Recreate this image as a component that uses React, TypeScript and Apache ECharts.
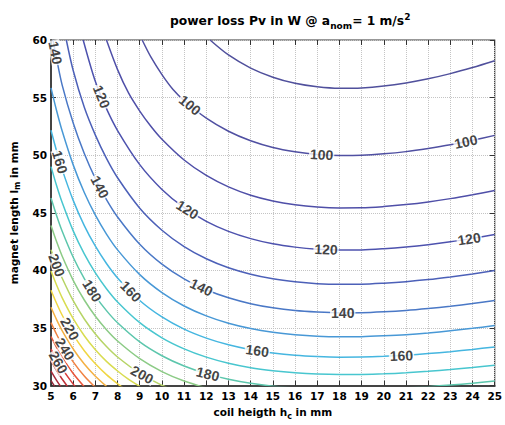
import React, { useEffect, useRef } from "react";
import * as echarts from "echarts";

// contour levels (W)
const levels = [90, 100, 110, 120, 130, 140, 150, 160, 170, 180, 190, 200, 210, 220, 230, 240, 250, 260, 270, 280, 290];

// contour lines: [coil height h (mm), magnet length l (mm)]
const c90 = [[12.17, 60], [13, 58.7], [14, 57.56], [15, 56.77], [16, 56.24], [17, 55.94], [18, 55.81], [19, 55.84], [20, 56.0], [21, 56.27], [22, 56.63], [23, 57.08], [24, 57.61], [25, 58.2]];
const c100 = [[9.11, 60], [9.5, 58.53], [10, 57.0], [10.5, 55.71], [11, 54.75], [12, 53.21], [13, 52.08], [14, 51.25], [15, 50.67], [16, 50.3], [17, 50.07], [18, 49.98], [19, 50.0], [20, 50.12], [21, 50.31], [22, 50.58], [23, 50.9], [24, 51.29], [25, 51.72]];
const c110 = [[7.5, 60], [8, 57.43], [8.5, 55.38], [9, 53.83], [9.5, 52.51], [10, 51.38], [11, 49.58], [12, 48.24], [13, 47.25], [14, 46.53], [15, 46.03], [16, 45.7], [17, 45.5], [18, 45.42], [19, 45.43], [20, 45.54], [21, 45.71], [22, 45.94], [23, 46.23], [24, 46.57], [25, 46.94]];
const c120 = [[6.45, 60], [7, 56.39], [7.5, 54.04], [8, 52.14], [9, 49.18], [10, 47.03], [11, 45.44], [12, 44.26], [13, 43.39], [14, 42.76], [15, 42.31], [16, 42.02], [17, 41.84], [18, 41.77], [19, 41.78], [20, 41.88], [21, 42.03], [22, 42.23], [23, 42.48], [24, 42.78], [25, 43.11]];
const c130 = [[5.69, 60], [6, 57.35], [6.5, 54.16], [7, 51.74], [7.5, 49.72], [8, 48.04], [9, 45.4], [10, 43.49], [11, 42.07], [12, 41.01], [13, 40.23], [14, 39.67], [15, 39.27], [16, 39.01], [17, 38.85], [18, 38.79], [19, 38.8], [20, 38.89], [21, 39.02], [22, 39.2], [23, 39.43], [24, 39.69], [25, 39.99]];
const c140 = [[5.09, 60], [5.25, 58.39], [5.5, 56.11], [6, 52.79], [6.5, 50.14], [7, 47.96], [7.5, 46.15], [8, 44.64], [9, 42.27], [10, 40.54], [11, 39.26], [12, 38.32], [13, 37.62], [14, 37.11], [15, 36.75], [16, 36.51], [17, 36.38], [18, 36.31], [19, 36.32], [20, 36.4], [21, 36.52], [22, 36.69], [23, 36.89], [24, 37.13], [25, 37.39]];
const c150 = [[5, 55.85], [5.25, 53.88], [5.5, 52.12], [6, 49.16], [6.5, 46.76], [7, 44.79], [7.5, 43.15], [8, 41.78], [9, 39.63], [10, 38.07], [11, 36.91], [12, 36.05], [13, 35.41], [14, 34.95], [15, 34.63], [16, 34.42], [17, 34.29], [18, 34.24], [19, 34.25], [20, 34.32], [21, 34.42], [22, 34.57], [23, 34.76], [24, 34.97], [25, 35.21]];
const c160 = [[5, 52.17], [5.25, 50.38], [5.5, 48.77], [6, 46.08], [6.5, 43.89], [7, 42.1], [7.5, 40.6], [8, 39.35], [9, 37.39], [10, 35.96], [11, 34.9], [12, 34.12], [13, 33.54], [14, 33.12], [15, 32.83], [16, 32.63], [17, 32.52], [18, 32.47], [19, 32.48], [20, 32.54], [21, 32.64], [22, 32.78], [23, 32.94], [24, 33.14], [25, 33.36]];
const c170 = [[5, 49.01], [5.25, 47.37], [5.5, 45.91], [6, 43.43], [6.5, 41.43], [7, 39.78], [7.5, 38.41], [8, 37.26], [9, 35.46], [10, 34.15], [11, 33.19], [12, 32.47], [13, 31.94], [14, 31.55], [15, 31.29], [16, 31.11], [17, 31.0], [18, 30.96], [19, 30.97], [20, 31.02], [21, 31.11], [22, 31.24], [23, 31.39], [24, 31.57], [25, 31.77]];
const c180 = [[5, 46.28], [5.25, 44.77], [5.5, 43.42], [6, 41.14], [6.5, 39.29], [7, 37.77], [7.5, 36.51], [8, 35.45], [9, 33.79], [10, 32.59], [11, 31.7], [12, 31.04], [13, 30.55], [14, 30.2], [15, 29.95], [16, 29.79], [17, 29.69], [18, 29.65], [19, 29.66], [20, 29.71], [21, 29.8], [22, 29.91], [23, 30.05], [24, 30.21], [25, 30.4]];
const c190 = [[5, 43.9], [5.25, 42.5], [5.5, 41.25], [6, 39.14], [6.5, 37.43], [7, 36.02], [7.5, 34.85], [8, 33.87], [9, 32.34], [10, 31.22], [11, 30.4], [12, 29.8]];
const c200 = [[5, 41.8], [5.25, 40.5], [5.5, 39.34], [6, 37.37], [6.5, 35.78], [7, 34.48], [7.5, 33.39], [8, 32.48], [9, 31.06], [10, 30.03], [10.5, 29.62]];
const c210 = [[5, 39.94], [5.25, 38.73], [5.5, 37.64], [6, 35.81], [6.5, 34.33], [7, 33.11], [7.5, 32.1], [8, 31.27], [8.5, 30.54], [9, 29.93]];
const c220 = [[5, 38.28], [5.25, 37.15], [5.5, 36.13], [6, 34.42], [6.5, 33.03], [7, 31.89], [7.5, 30.95], [8, 30.16], [8.25, 29.81]];
const c230 = [[5, 36.8], [5.25, 35.73], [5.5, 34.78], [6, 33.18], [6.5, 31.87], [7, 30.81], [7.5, 29.93]];
const c240 = [[5, 35.47], [5.25, 34.46], [5.5, 33.56], [6, 32.06], [6.5, 30.83], [7, 29.84]];
const c250 = [[5, 34.26], [5.25, 33.31], [5.5, 32.47], [6, 31.05], [6.5, 29.9]];
const c260 = [[5, 33.16], [5.25, 32.27], [5.5, 31.47], [6, 30.13], [6.25, 29.57]];
const c270 = [[5, 32.17], [5.25, 31.32], [5.5, 30.57], [5.75, 29.91]];
const c280 = [[5, 31.26], [5.25, 30.46], [5.5, 29.75]];
const c290 = [[5, 30.43], [5.25, 29.67]];

const contourLines = [c90, c100, c110, c120, c130, c140, c150, c160, c170, c180, c190, c200, c210, c220, c230, c240, c250, c260, c270, c280, c290];

// inline contour labels: [level, h, l]
const contourLabels = [
  [140, 5.2, 58.9], [120, 7.28, 55.07], [100, 11.26, 54.35], [160, 5.4, 49.41], [140, 7.2, 47.24],
  [120, 11.15, 45.26], [100, 17.2, 50.05], [100, 23.7, 51.17], [120, 17.4, 41.82], [120, 23.85, 42.74],
  [140, 18.15, 36.31], [140, 11.78, 38.53], [160, 20.8, 32.6], [160, 14.3, 33.03], [160, 8.6, 38.17],
  [180, 6.85, 38.23], [180, 12.07, 31.0], [200, 5.26, 40.45], [200, 9.11, 30.95], [220, 5.85, 34.93],
  [240, 5.63, 33.17], [260, 5.33, 32.01],
];
const labelAngles = [-79, -68, -39, -73, -62, -32, -3, 12, -2, 9, 0, -26, 2, -8, -46, -58, -14, -70, -28, -61, -58, -60];

const levelColors = [
  "#50509c", "#5050a2", "#4f4fa8", "#4d52ae", "#4c60b8", "#4a78c6", "#4898d6", "#45b6e0", "#48c6cf", "#5cc6ac",
  "#8ccb86", "#b6d466", "#d8dc50", "#f0d642", "#f4b042", "#f08242", "#e8553a", "#d83a3a", "#c03038", "#a82a3a", "#922a3a",
];

const FONT = "DejaVu Sans";

export default function App() {
  const ref = useRef<HTMLDivElement>(null);
  useEffect(() => {
    const chart = echarts.init(ref.current as HTMLDivElement, null, { renderer: "svg" });
    const lineSeries = contourLines.map((pts, i) => ({
      type: "line",
      name: String(levels[i]),
      data: pts,
      smooth: 0.3,
      symbol: "none",
      clip: true,
      silent: true,
      lineStyle: { color: levelColors[i], width: 1.5 },
      z: 2,
    }));
    const labelSeries = {
      type: "scatter",
      data: contourLabels.map((d, i) => ({
        value: [d[1], d[2]],
        label: { rotate: labelAngles[i], formatter: String(d[0]) },
      })),
      symbolSize: 1,
      itemStyle: { color: "rgba(0,0,0,0)" },
      label: {
        show: true,
        position: "inside",
        fontFamily: "Liberation Sans",
        fontWeight: "bold",
        fontSize: 14,
        color: "#111",
        backgroundColor: "#fff",
        padding: [-1, 1],
      },
      silent: true,
      clip: false,
      z: 5,
    };
    const tickFont = { fontFamily: FONT, fontWeight: "bold", fontSize: 10.5, color: "#000" };
    const nameRich = {
      n: { fontFamily: FONT, fontWeight: "bold", fontSize: 10.5, color: "#000" },
      s: { fontFamily: FONT, fontWeight: "bold", fontSize: 8, color: "#000", padding: [8, 0, 0, 0] },
    };
    chart.setOption({
      animation: false,
      backgroundColor: "#fff",
      title: {
        text: "{a|power loss Pv in W @ a}{s|nom}{a|= 1 m/s}{p|2}",
        left: 165,
        top: 7,
        textStyle: {
          rich: {
            a: { fontFamily: FONT, fontWeight: "bold", fontSize: 12.3, color: "#000" },
            s: { fontFamily: FONT, fontWeight: "bold", fontSize: 9, color: "#000", padding: [9, 0, 0, 0] },
            p: { fontFamily: FONT, fontWeight: "bold", fontSize: 9, color: "#000", padding: [0, 0, 9, 0] },
          },
        },
      },
      grid: { left: 47.5, right: 7.5, top: 40, bottom: 30, show: true, borderColor: "#333", borderWidth: 1.2 },
      xAxis: [
        {
          type: "value",
          min: 5,
          max: 25,
          interval: 1,
          position: "bottom",
          axisLine: { show: true, onZero: false, lineStyle: { color: "#444", width: 2 } },
          axisTick: { show: true, inside: true, length: 5, lineStyle: { color: "#333" } },
          axisLabel: { ...tickFont, margin: 5 },
          splitLine: { show: true, lineStyle: { type: "dotted", color: "#c4c4c4", width: 1 } },
          name: "{n|coil heigth h}{s|c}{n| in mm}",
          nameLocation: "middle",
          nameGap: 17,
          nameTextStyle: { rich: nameRich },
        },
        {
          type: "value",
          min: 5,
          max: 25,
          interval: 1,
          position: "top",
          axisLine: { show: false },
          axisTick: { show: true, inside: true, length: 5, lineStyle: { color: "#333" } },
          axisLabel: { show: false },
          splitLine: { show: false },
        },
      ],
      yAxis: [
        {
          type: "value",
          min: 30,
          max: 60,
          interval: 5,
          position: "left",
          axisLine: { show: true, onZero: false, lineStyle: { color: "#444", width: 2 } },
          axisTick: { show: true, inside: true, length: 5, lineStyle: { color: "#333" } },
          axisLabel: { ...tickFont, margin: 4 },
          splitLine: { show: true, lineStyle: { type: "dotted", color: "#c4c4c4", width: 1 } },
          name: "{n|magnet length l}{s|m}{n| in mm}",
          nameLocation: "middle",
          nameGap: 22,
          nameRotate: 90,
          nameTextStyle: { rich: nameRich },
        },
        {
          type: "value",
          min: 30,
          max: 60,
          interval: 5,
          position: "right",
          axisLine: { show: false },
          axisTick: { show: true, inside: true, length: 5, lineStyle: { color: "#333" } },
          axisLabel: { show: false },
          splitLine: { show: false },
        },
      ],
      series: [...lineSeries, labelSeries],
    });
    return () => chart.dispose();
  }, []);
  return <div ref={ref} style={{ position: "fixed", left: 0, top: 0, width: 505, height: 425 }} />;
}
